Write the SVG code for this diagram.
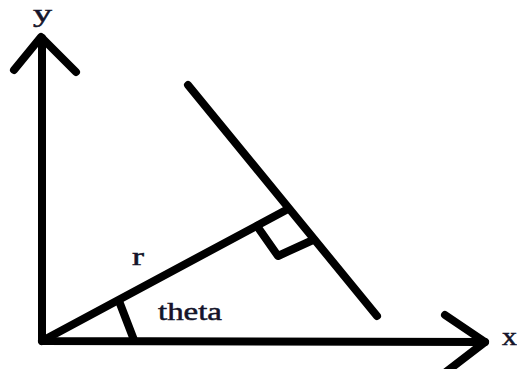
<svg xmlns="http://www.w3.org/2000/svg" width="517" height="369" viewBox="0 0 517 369">
<style>
.ln{fill:none;stroke:#000;stroke-width:8;stroke-linecap:round;stroke-linejoin:round}
.lb{font-family:"Liberation Serif","Times New Roman",serif;font-size:25px;fill:#14142a;stroke:#14142a;stroke-width:0.5}
</style>
<rect width="517" height="369" fill="#fff"/>
<g id="axes">
<polyline class="ln" points="42,38 42,341 485,342"/>
<polyline id="y-arrow" class="ln" points="14,70 41,37 76,72"/>
<polyline id="x-arrow" class="ln" points="445,315 485,342 446,372"/>
</g>
<g id="connectors">
<line id="r-line" class="ln" x1="42" y1="341" x2="288" y2="209"/>
<line id="normal-line" class="ln" x1="188" y1="85" x2="377" y2="316"/>
<polyline id="right-angle" class="ln" points="257,226 278,256 313,240"/>
<line id="theta-tick" class="ln" x1="119" y1="301" x2="134" y2="340"/>
</g>
<g id="labels">
<text class="lb" x="33" y="22" textLength="19" lengthAdjust="spacingAndGlyphs">y</text>
<text class="lb" x="502" y="345" textLength="15" lengthAdjust="spacingAndGlyphs">x</text>
<text class="lb" x="132" y="265" textLength="12" lengthAdjust="spacingAndGlyphs">r</text>
<text class="lb" x="158" y="320" textLength="64" lengthAdjust="spacingAndGlyphs">theta</text>
</g>
</svg>
